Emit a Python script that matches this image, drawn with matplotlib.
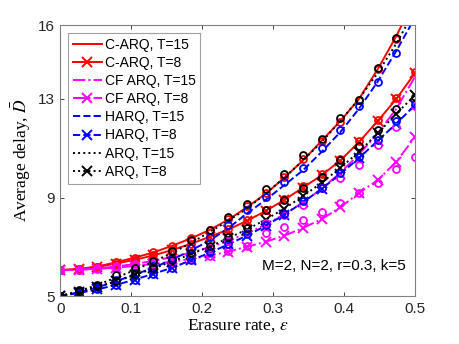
import matplotlib
matplotlib.use("Agg")
import matplotlib.pyplot as plt
import numpy as np

# erasure rate samples (20 points from 0 to 0.5)
erasure = np.linspace(0, 0.5, 20)

# analytical curves
carq_T15 = [6.05, 6.10, 6.20, 6.37, 6.56, 6.77, 7.04, 7.34, 7.68, 8.10, 8.60, 9.15, 9.80, 10.50, 11.30, 12.10, 13.00, 14.20, 15.55, 17.10]
carq_T8  = [6.05, 6.09, 6.18, 6.32, 6.47, 6.65, 6.87, 7.12, 7.40, 7.70, 8.05, 8.45, 8.90, 9.40, 9.90, 10.50, 11.25, 12.10, 13.00, 14.05]
cfarq_T15 = [6.05, 6.07, 6.12, 6.20, 6.30, 6.43, 6.58, 6.76, 6.98, 7.24, 7.55, 7.90, 8.32, 8.80, 9.35, 10.00, 10.75, 11.60, 12.60, 13.90]
cfarq_T8  = [6.05, 6.07, 6.10, 6.15, 6.22, 6.30, 6.40, 6.50, 6.64, 6.80, 7.00, 7.20, 7.45, 7.76, 8.12, 8.60, 9.18, 9.70, 10.45, 11.45]
harq_T15 = [5.00, 5.15, 5.35, 5.60, 5.87, 6.15, 6.48, 6.85, 7.25, 7.75, 8.35, 8.90, 9.50, 10.10, 10.85, 11.65, 12.60, 13.70, 14.95, 16.30]
harq_T8  = [5.00, 5.12, 5.27, 5.45, 5.67, 5.90, 6.15, 6.45, 6.75, 7.10, 7.45, 7.85, 8.30, 8.80, 9.35, 9.95, 10.60, 11.30, 12.00, 12.75]
arq_T15 = [5.00, 5.20, 5.45, 5.75, 6.05, 6.40, 6.75, 7.15, 7.60, 8.05, 8.55, 9.15, 9.80, 10.50, 11.25, 12.10, 13.00, 14.05, 15.25, 16.60]
arq_T8  = [5.00, 5.18, 5.38, 5.60, 5.85, 6.12, 6.40, 6.70, 7.00, 7.35, 7.70, 8.10, 8.55, 9.05, 9.60, 10.20, 10.85, 11.60, 12.40, 13.15]

# simulation points (circles)
sim_carq_T15 = [6.05, 6.08, 6.16, 6.37, 6.56, 6.77, 7.04, 7.34, 7.68, 8.11, 8.65, 9.20, 9.85, 10.55, 11.30, 12.05, 12.95, 14.20, 15.45, 17.00]
sim_carq_T8  = [6.05, 6.09, 6.18, 6.32, 6.47, 6.65, 6.87, 7.12, 7.40, 7.72, 8.08, 8.50, 8.95, 9.45, 9.95, 10.55, 11.30, 12.15, 13.05, 14.10]
sim_cfarq_T15 = [6.05, 6.07, 6.12, 6.20, 6.30, 6.43, 6.58, 6.76, 6.98, 7.24, 7.55, 7.96, 8.30, 8.70, 9.40, 9.80, 10.30, 11.13, 11.86, 12.70]
sim_cfarq_T8  = [6.05, 6.07, 6.10, 6.15, 6.22, 6.30, 6.40, 6.50, 6.64, 6.83, 7.05, 7.55, 7.81, 8.08, 8.40, 8.76, 9.20, 9.60, 10.15, 10.64]
sim_harq_T15 = [5.00, 5.17, 5.38, 5.64, 5.92, 6.22, 6.56, 6.95, 7.38, 7.90, 8.49, 9.03, 9.64, 10.18, 11.00, 11.74, 12.70, 13.70, 14.86, 16.40]
sim_harq_T8  = [5.00, 5.12, 5.27, 5.45, 5.67, 5.90, 6.15, 6.45, 6.78, 7.12, 7.50, 7.90, 8.35, 8.85, 9.40, 10.00, 10.65, 11.35, 12.10, 12.80]
sim_arq_T15 = [5.00, 5.24, 5.45, 5.85, 6.12, 6.43, 6.84, 7.27, 7.68, 8.19, 8.72, 9.33, 9.95, 10.72, 11.36, 12.24, 12.95, 14.25, 15.47, 16.80]
sim_arq_T8  = [5.00, 5.20, 5.40, 5.62, 5.88, 6.15, 6.45, 6.75, 7.05, 7.40, 7.78, 8.49, 8.90, 9.37, 9.84, 10.52, 11.10, 11.75, 12.60, 13.10]

labels = ["C-ARQ, T=15", "C-ARQ, T=8", "CF ARQ, T=15", "CF ARQ, T=8",
          "HARQ, T=15", "HARQ, T=8", "ARQ, T=15", "ARQ, T=8"]
xticks = [0, 0.1, 0.2, 0.3, 0.4, 0.5]
xticklabels = ["0", "0.1", "0.2", "0.3", "0.4", "0.5"]
yticks = [5, 9, 13, 16]
yticklabels = ["5", "9", "13", "16"]

plt.rcParams['font.family'] = ['Liberation Sans', 'DejaVu Sans']
plt.rcParams['mathtext.fontset'] = 'stix'

fig = plt.figure(figsize=(4.59, 3.44), dpi=100)
ax = fig.add_axes([0.131, 0.1395, 0.773, 0.7875])

series = [
    (carq_T15, sim_carq_T15, 'red', '-', None),
    (carq_T8, sim_carq_T8, 'red', '-', 'x'),
    (cfarq_T15, sim_cfarq_T15, 'magenta', '-.', None),
    (cfarq_T8, sim_cfarq_T8, 'magenta', '-.', 'x'),
    (harq_T15, sim_harq_T15, 'blue', '--', None),
    (harq_T8, sim_harq_T8, 'blue', '--', 'x'),
    (arq_T15, sim_arq_T15, 'black', ':', None),
    (arq_T8, sim_arq_T8, 'black', ':', 'x'),
]

handles = []
for (line, sim, col, ls, mk), lab in zip(series, labels):
    h, = ax.plot(erasure, line, color=col, linestyle=ls, linewidth=1.4,
                 marker=mk, markersize=7.5, markeredgewidth=1.4, label=lab)
    handles.append(h)
for (line, sim, col, ls, mk) in series:
    ax.plot(erasure, sim, linestyle='none', marker='o', markersize=5,
            markerfacecolor='none', markeredgecolor=col, markeredgewidth=1.3)

ax.set_xlim(0, 0.5)
ax.set_ylim(5, 16)
ax.set_xticks(xticks)
ax.set_xticklabels(xticklabels)
ax.set_yticks(yticks)
ax.set_yticklabels(yticklabels)
ax.tick_params(direction='in', length=3, labelsize=11, colors='#262626',
               top=True, right=True, width=0.6, pad=4)
for s in ax.spines.values():
    s.set_color('#808080')
    s.set_linewidth(0.8)

ax.set_xlabel(r"Erasure rate, $\epsilon$", family='Liberation Serif', fontsize=12.5, labelpad=1)
ax.set_ylabel(r"Average delay, $\bar{D}$", family='Liberation Serif', fontsize=12.5, labelpad=3)

leg = ax.legend(handles=handles, loc='upper left', bbox_to_anchor=(0.022, 0.972),
                borderaxespad=0, fontsize=10, handlelength=2.1, handletextpad=0.2,
                labelspacing=0.3, borderpad=0.35, fancybox=False, framealpha=1)
leg.get_frame().set_edgecolor('#a0a0a0')
leg.get_frame().set_linewidth(0.8)

ax.text(0.975, 0.11, "M=2, N=2, r=0.3, k=5", transform=ax.transAxes,
        ha='right', va='center', fontsize=11)

fig.savefig("out.png", dpi=100)
